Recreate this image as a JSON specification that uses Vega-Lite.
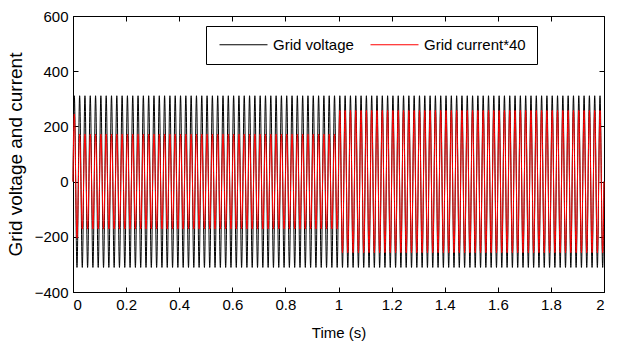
{
"$schema":"https://vega.github.io/schema/vega-lite/v6.json",
"width":531,"height":276,
"autosize":{"type":"none"},
"padding":{"left":73,"top":16,"right":14,"bottom":57},
"background":"white",
"datasets":{
"voltage":[{"t":0,"y":0},
{"t":0.005,"y":311},{"t":0.015,"y":-311},{"t":0.025,"y":311},{"t":0.035,"y":-311},{"t":0.045,"y":311},{"t":0.055,"y":-311},{"t":0.065,"y":311},{"t":0.075,"y":-311},{"t":0.085,"y":311},{"t":0.095,"y":-311},
{"t":0.105,"y":311},{"t":0.115,"y":-311},{"t":0.125,"y":311},{"t":0.135,"y":-311},{"t":0.145,"y":311},{"t":0.155,"y":-311},{"t":0.165,"y":311},{"t":0.175,"y":-311},{"t":0.185,"y":311},{"t":0.195,"y":-311},
{"t":0.205,"y":311},{"t":0.215,"y":-311},{"t":0.225,"y":311},{"t":0.235,"y":-311},{"t":0.245,"y":311},{"t":0.255,"y":-311},{"t":0.265,"y":311},{"t":0.275,"y":-311},{"t":0.285,"y":311},{"t":0.295,"y":-311},
{"t":0.305,"y":311},{"t":0.315,"y":-311},{"t":0.325,"y":311},{"t":0.335,"y":-311},{"t":0.345,"y":311},{"t":0.355,"y":-311},{"t":0.365,"y":311},{"t":0.375,"y":-311},{"t":0.385,"y":311},{"t":0.395,"y":-311},
{"t":0.405,"y":311},{"t":0.415,"y":-311},{"t":0.425,"y":311},{"t":0.435,"y":-311},{"t":0.445,"y":311},{"t":0.455,"y":-311},{"t":0.465,"y":311},{"t":0.475,"y":-311},{"t":0.485,"y":311},{"t":0.495,"y":-311},
{"t":0.505,"y":311},{"t":0.515,"y":-311},{"t":0.525,"y":311},{"t":0.535,"y":-311},{"t":0.545,"y":311},{"t":0.555,"y":-311},{"t":0.565,"y":311},{"t":0.575,"y":-311},{"t":0.585,"y":311},{"t":0.595,"y":-311},
{"t":0.605,"y":311},{"t":0.615,"y":-311},{"t":0.625,"y":311},{"t":0.635,"y":-311},{"t":0.645,"y":311},{"t":0.655,"y":-311},{"t":0.665,"y":311},{"t":0.675,"y":-311},{"t":0.685,"y":311},{"t":0.695,"y":-311},
{"t":0.705,"y":311},{"t":0.715,"y":-311},{"t":0.725,"y":311},{"t":0.735,"y":-311},{"t":0.745,"y":311},{"t":0.755,"y":-311},{"t":0.765,"y":311},{"t":0.775,"y":-311},{"t":0.785,"y":311},{"t":0.795,"y":-311},
{"t":0.805,"y":311},{"t":0.815,"y":-311},{"t":0.825,"y":311},{"t":0.835,"y":-311},{"t":0.845,"y":311},{"t":0.855,"y":-311},{"t":0.865,"y":311},{"t":0.875,"y":-311},{"t":0.885,"y":311},{"t":0.895,"y":-311},
{"t":0.905,"y":311},{"t":0.915,"y":-311},{"t":0.925,"y":311},{"t":0.935,"y":-311},{"t":0.945,"y":311},{"t":0.955,"y":-311},{"t":0.965,"y":311},{"t":0.975,"y":-311},{"t":0.985,"y":311},{"t":0.995,"y":-311},
{"t":1.005,"y":311},{"t":1.015,"y":-311},{"t":1.025,"y":311},{"t":1.035,"y":-311},{"t":1.045,"y":311},{"t":1.055,"y":-311},{"t":1.065,"y":311},{"t":1.075,"y":-311},{"t":1.085,"y":311},{"t":1.095,"y":-311},
{"t":1.105,"y":311},{"t":1.115,"y":-311},{"t":1.125,"y":311},{"t":1.135,"y":-311},{"t":1.145,"y":311},{"t":1.155,"y":-311},{"t":1.165,"y":311},{"t":1.175,"y":-311},{"t":1.185,"y":311},{"t":1.195,"y":-311},
{"t":1.205,"y":311},{"t":1.215,"y":-311},{"t":1.225,"y":311},{"t":1.235,"y":-311},{"t":1.245,"y":311},{"t":1.255,"y":-311},{"t":1.265,"y":311},{"t":1.275,"y":-311},{"t":1.285,"y":311},{"t":1.295,"y":-311},
{"t":1.305,"y":311},{"t":1.315,"y":-311},{"t":1.325,"y":311},{"t":1.335,"y":-311},{"t":1.345,"y":311},{"t":1.355,"y":-311},{"t":1.365,"y":311},{"t":1.375,"y":-311},{"t":1.385,"y":311},{"t":1.395,"y":-311},
{"t":1.405,"y":311},{"t":1.415,"y":-311},{"t":1.425,"y":311},{"t":1.435,"y":-311},{"t":1.445,"y":311},{"t":1.455,"y":-311},{"t":1.465,"y":311},{"t":1.475,"y":-311},{"t":1.485,"y":311},{"t":1.495,"y":-311},
{"t":1.505,"y":311},{"t":1.515,"y":-311},{"t":1.525,"y":311},{"t":1.535,"y":-311},{"t":1.545,"y":311},{"t":1.555,"y":-311},{"t":1.565,"y":311},{"t":1.575,"y":-311},{"t":1.585,"y":311},{"t":1.595,"y":-311},
{"t":1.605,"y":311},{"t":1.615,"y":-311},{"t":1.625,"y":311},{"t":1.635,"y":-311},{"t":1.645,"y":311},{"t":1.655,"y":-311},{"t":1.665,"y":311},{"t":1.675,"y":-311},{"t":1.685,"y":311},{"t":1.695,"y":-311},
{"t":1.705,"y":311},{"t":1.715,"y":-311},{"t":1.725,"y":311},{"t":1.735,"y":-311},{"t":1.745,"y":311},{"t":1.755,"y":-311},{"t":1.765,"y":311},{"t":1.775,"y":-311},{"t":1.785,"y":311},{"t":1.795,"y":-311},
{"t":1.805,"y":311},{"t":1.815,"y":-311},{"t":1.825,"y":311},{"t":1.835,"y":-311},{"t":1.845,"y":311},{"t":1.855,"y":-311},{"t":1.865,"y":311},{"t":1.875,"y":-311},{"t":1.885,"y":311},{"t":1.895,"y":-311},
{"t":1.905,"y":311},{"t":1.915,"y":-311},{"t":1.925,"y":311},{"t":1.935,"y":-311},{"t":1.945,"y":311},{"t":1.955,"y":-311},{"t":1.965,"y":311},{"t":1.975,"y":-311},{"t":1.985,"y":311},{"t":1.995,"y":-311},
{"t":2,"y":0}],
"current":[{"t":0,"y":0},
{"t":0.005,"y":245},{"t":0.015,"y":-205},{"t":0.025,"y":172},{"t":0.035,"y":-172},{"t":0.045,"y":172},{"t":0.055,"y":-172},{"t":0.065,"y":172},{"t":0.075,"y":-172},{"t":0.085,"y":172},{"t":0.095,"y":-172},
{"t":0.105,"y":172},{"t":0.115,"y":-172},{"t":0.125,"y":172},{"t":0.135,"y":-172},{"t":0.145,"y":172},{"t":0.155,"y":-172},{"t":0.165,"y":172},{"t":0.175,"y":-172},{"t":0.185,"y":172},{"t":0.195,"y":-172},
{"t":0.205,"y":172},{"t":0.215,"y":-172},{"t":0.225,"y":172},{"t":0.235,"y":-172},{"t":0.245,"y":172},{"t":0.255,"y":-172},{"t":0.265,"y":172},{"t":0.275,"y":-172},{"t":0.285,"y":172},{"t":0.295,"y":-172},
{"t":0.305,"y":172},{"t":0.315,"y":-172},{"t":0.325,"y":172},{"t":0.335,"y":-172},{"t":0.345,"y":172},{"t":0.355,"y":-172},{"t":0.365,"y":172},{"t":0.375,"y":-172},{"t":0.385,"y":172},{"t":0.395,"y":-172},
{"t":0.405,"y":172},{"t":0.415,"y":-172},{"t":0.425,"y":172},{"t":0.435,"y":-172},{"t":0.445,"y":172},{"t":0.455,"y":-172},{"t":0.465,"y":172},{"t":0.475,"y":-172},{"t":0.485,"y":172},{"t":0.495,"y":-172},
{"t":0.505,"y":172},{"t":0.515,"y":-172},{"t":0.525,"y":172},{"t":0.535,"y":-172},{"t":0.545,"y":172},{"t":0.555,"y":-172},{"t":0.565,"y":172},{"t":0.575,"y":-172},{"t":0.585,"y":172},{"t":0.595,"y":-172},
{"t":0.605,"y":172},{"t":0.615,"y":-172},{"t":0.625,"y":172},{"t":0.635,"y":-172},{"t":0.645,"y":172},{"t":0.655,"y":-172},{"t":0.665,"y":172},{"t":0.675,"y":-172},{"t":0.685,"y":172},{"t":0.695,"y":-172},
{"t":0.705,"y":172},{"t":0.715,"y":-172},{"t":0.725,"y":172},{"t":0.735,"y":-172},{"t":0.745,"y":172},{"t":0.755,"y":-172},{"t":0.765,"y":172},{"t":0.775,"y":-172},{"t":0.785,"y":172},{"t":0.795,"y":-172},
{"t":0.805,"y":172},{"t":0.815,"y":-172},{"t":0.825,"y":172},{"t":0.835,"y":-172},{"t":0.845,"y":172},{"t":0.855,"y":-172},{"t":0.865,"y":172},{"t":0.875,"y":-172},{"t":0.885,"y":172},{"t":0.895,"y":-172},
{"t":0.905,"y":172},{"t":0.915,"y":-172},{"t":0.925,"y":172},{"t":0.935,"y":-172},{"t":0.945,"y":172},{"t":0.955,"y":-172},{"t":0.965,"y":172},{"t":0.975,"y":-172},{"t":0.985,"y":172},{"t":0.995,"y":-172},
{"t":1.005,"y":258},{"t":1.015,"y":-258},{"t":1.025,"y":258},{"t":1.035,"y":-258},{"t":1.045,"y":258},{"t":1.055,"y":-258},{"t":1.065,"y":258},{"t":1.075,"y":-258},{"t":1.085,"y":258},{"t":1.095,"y":-258},
{"t":1.105,"y":258},{"t":1.115,"y":-258},{"t":1.125,"y":258},{"t":1.135,"y":-258},{"t":1.145,"y":258},{"t":1.155,"y":-258},{"t":1.165,"y":258},{"t":1.175,"y":-258},{"t":1.185,"y":258},{"t":1.195,"y":-258},
{"t":1.205,"y":258},{"t":1.215,"y":-258},{"t":1.225,"y":258},{"t":1.235,"y":-258},{"t":1.245,"y":258},{"t":1.255,"y":-258},{"t":1.265,"y":258},{"t":1.275,"y":-258},{"t":1.285,"y":258},{"t":1.295,"y":-258},
{"t":1.305,"y":258},{"t":1.315,"y":-258},{"t":1.325,"y":258},{"t":1.335,"y":-258},{"t":1.345,"y":258},{"t":1.355,"y":-258},{"t":1.365,"y":258},{"t":1.375,"y":-258},{"t":1.385,"y":258},{"t":1.395,"y":-258},
{"t":1.405,"y":258},{"t":1.415,"y":-258},{"t":1.425,"y":258},{"t":1.435,"y":-258},{"t":1.445,"y":258},{"t":1.455,"y":-258},{"t":1.465,"y":258},{"t":1.475,"y":-258},{"t":1.485,"y":258},{"t":1.495,"y":-258},
{"t":1.505,"y":258},{"t":1.515,"y":-258},{"t":1.525,"y":258},{"t":1.535,"y":-258},{"t":1.545,"y":258},{"t":1.555,"y":-258},{"t":1.565,"y":258},{"t":1.575,"y":-258},{"t":1.585,"y":258},{"t":1.595,"y":-258},
{"t":1.605,"y":258},{"t":1.615,"y":-258},{"t":1.625,"y":258},{"t":1.635,"y":-258},{"t":1.645,"y":258},{"t":1.655,"y":-258},{"t":1.665,"y":258},{"t":1.675,"y":-258},{"t":1.685,"y":258},{"t":1.695,"y":-258},
{"t":1.705,"y":258},{"t":1.715,"y":-258},{"t":1.725,"y":258},{"t":1.735,"y":-258},{"t":1.745,"y":258},{"t":1.755,"y":-258},{"t":1.765,"y":258},{"t":1.775,"y":-258},{"t":1.785,"y":258},{"t":1.795,"y":-258},
{"t":1.805,"y":258},{"t":1.815,"y":-258},{"t":1.825,"y":258},{"t":1.835,"y":-258},{"t":1.845,"y":258},{"t":1.855,"y":-258},{"t":1.865,"y":258},{"t":1.875,"y":-258},{"t":1.885,"y":258},{"t":1.895,"y":-258},
{"t":1.905,"y":258},{"t":1.915,"y":-258},{"t":1.925,"y":258},{"t":1.935,"y":-258},{"t":1.945,"y":258},{"t":1.955,"y":-258},{"t":1.965,"y":258},{"t":1.975,"y":-258},{"t":1.985,"y":258},{"t":1.995,"y":-258},
{"t":2,"y":0}],
"frame":[{"t":0,"y":0}]
},
"layer":[
{"data":{"name":"voltage"},
 "mark":{"type":"line","strokeWidth":1,"interpolate":"monotone"},
 "encoding":{
  "x":{"field":"t","type":"quantitative","scale":{"domain":[0,2],"nice":false,"zero":false},
       "axis":{"orient":"bottom","values":[0,0.2,0.4,0.6,0.8,1,1.2,1.4,1.6,1.8,2],"format":"~g","title":"Time (s)","titleFontSize":15,"titlePadding":13}},
  "y":{"field":"y","type":"quantitative","scale":{"domain":[-400,600],"nice":false,"zero":false},
       "axis":{"orient":"left","values":[-400,-200,0,200,400,600],"title":"Grid voltage and current","titleFontSize":19,"titlePadding":9,"titleLimit":1000}},
  "color":{"datum":"Grid voltage","type":"nominal",
       "scale":{"domain":["Grid voltage","Grid current*40"],"range":["black","red"]},
       "legend":{"orient":"none","legendX":133,"legendY":10,"direction":"horizontal","title":null,
         "strokeColor":"black","fillColor":"white","padding":11,
         "symbolType":"M-4,0H4","symbolSize":144,"symbolStrokeWidth":1,
         "symbolOffset":19,"labelOffset":22,"columnPadding":14,"labelLimit":1000,
         "labelFont":"Arial","labelFontSize":15,"labelColor":"black"}}
 }},
{"data":{"name":"current"},
 "mark":{"type":"line","strokeWidth":1,"interpolate":"monotone"},
 "encoding":{
  "x":{"field":"t","type":"quantitative","axis":null},
  "y":{"field":"y","type":"quantitative","axis":null},
  "color":{"datum":"Grid current*40","type":"nominal"}
 }},
{"data":{"name":"frame"},
 "mark":{"type":"point","opacity":0},
 "encoding":{
  "x":{"field":"t","type":"quantitative","axis":{"orient":"top","values":[0,0.2,0.4,0.6,0.8,1,1.2,1.4,1.6,1.8,2],"labels":false,"title":null,"domain":false}},
  "y":{"field":"y","type":"quantitative","axis":{"orient":"right","values":[-400,-200,0,200,400,600],"labels":false,"title":null,"domain":false}}
 }}
],
"resolve":{"axis":{"x":"independent","y":"independent"}},
"config":{
 "font":"Arial",
 "view":{"stroke":"black","strokeWidth":1},
 "axis":{"labelFont":"Arial","labelFontSize":15,"labelColor":"black","titleFont":"Arial","titleFontWeight":"normal","titleColor":"black","domainColor":"black","tickColor":"black","grid":false,"tickSize":-5,"labelPadding":10}
}
}
